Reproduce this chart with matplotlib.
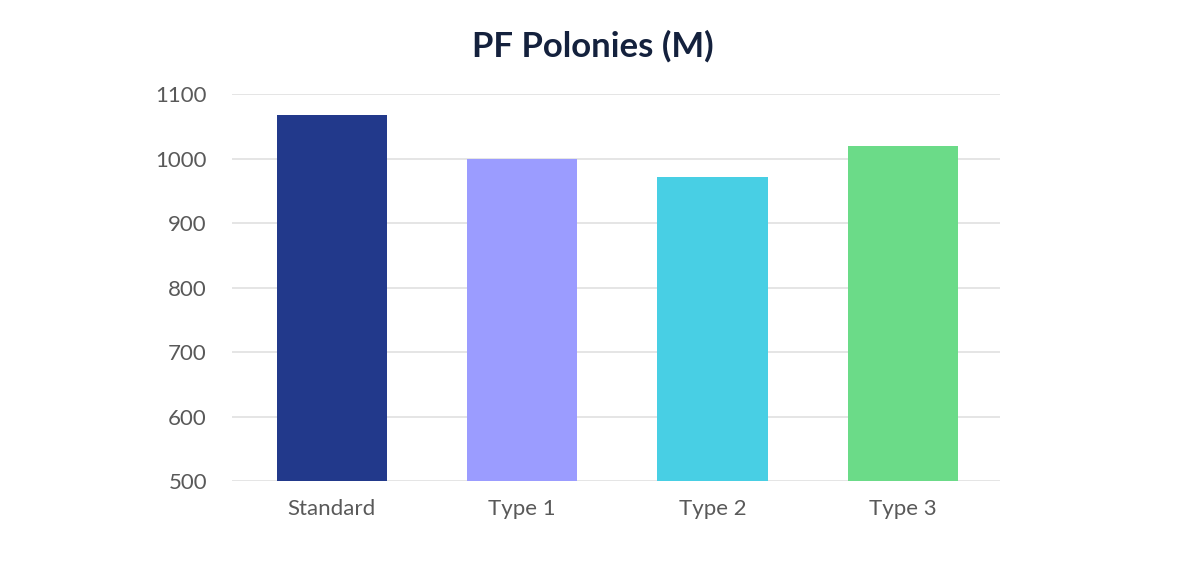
import matplotlib.pyplot as plt

categories = ['Standard', 'Type 1', 'Type 2', 'Type 3']
values = [1067, 1000, 971, 1019]
colors = ['#22398b', '#9b9cff', '#48cfe4', '#6bdb88']
yticks = [500, 600, 700, 800, 900, 1000, 1100]

plt.rcParams['font.family'] = ['Lato', 'DejaVu Sans']

fig = plt.figure(figsize=(12, 5.61), dpi=100)
ax = fig.add_axes([0.1933, 0.1426, 0.64, 0.6898])

x = list(range(len(categories)))
ax.bar(x, values, width=0.58, color=colors, zorder=3)

ax.set_ylim(500, 1100)
ax.set_xlim(-0.525, 3.51)
ax.set_yticks(yticks)
ax.set_xticks(x)
ax.set_xticklabels(categories)
ax.grid(axis='y', color='#e0e0e0', linewidth=1.2, zorder=0)
for side in ['top', 'right', 'left', 'bottom']:
    ax.spines[side].set_visible(False)
ax.tick_params(axis='both', length=0, labelsize=16, labelcolor='#595959')
ax.tick_params(axis='y', pad=18)
ax.tick_params(axis='x', pad=13)

fig.text(0.494, 0.918, 'PF Polonies (M)', ha='center', va='center',
         fontsize=25, fontweight='bold', color='#14213d')

fig.savefig('out.png', dpi=100)
